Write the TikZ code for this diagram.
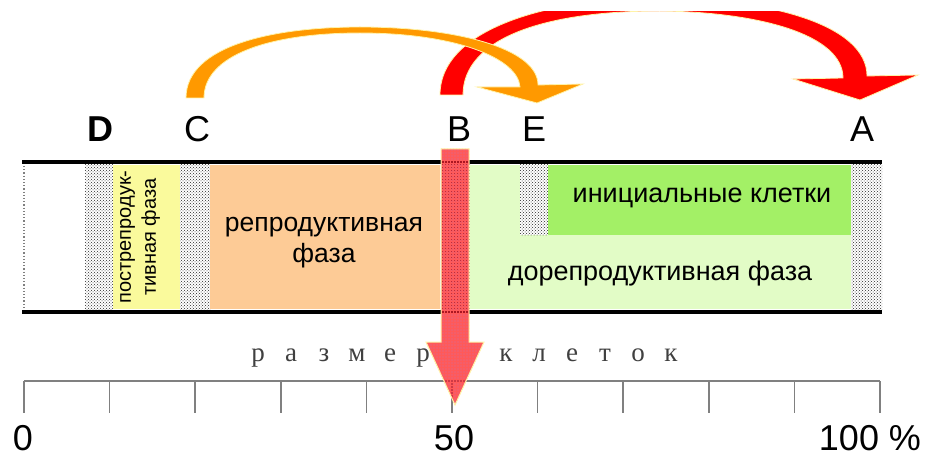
\documentclass[tikz,border=0pt]{standalone}
\usepackage{fontspec}
\setmainfont{Liberation Sans}
\newfontfamily\rulerfont{Liberation Serif}
\usetikzlibrary{patterns}
\definecolor{peach}{HTML}{FDCB96}
\definecolor{paleyellow}{HTML}{FAFA9C}
\definecolor{palegreen}{HTML}{E2FCC6}
\definecolor{brightgreen}{HTML}{A3F066}
\definecolor{arcorange}{HTML}{FF9900}
\definecolor{arcred}{HTML}{FF0000}
\definecolor{glow}{HTML}{FFF3A8}
\definecolor{rulerc}{HTML}{808080}
\definecolor{barred}{HTML}{EE2030}
\begin{document}
\begin{tikzpicture}[x=1pt,y=-1pt,
  stipple/.style={fill=white,postaction={pattern=crosshatch dots,pattern color=black!85}},
  letter/.style={font=\fontsize{36}{40}\selectfont,inner sep=0pt},
  bandtext/.style={font=\fontsize{27}{31}\selectfont,inner sep=0pt,align=center},
  rulertext/.style={font=\rulerfont\fontsize{27}{30}\selectfont,inner sep=0pt,text=black!75,anchor=base},
  digit/.style={font=\fontsize{36}{40}\selectfont,inner sep=0pt},
  bandline/.style={line width=4pt,black},
  tick/.style={rulerc,line width=1.5pt}]
\useasboundingbox (0,0) rectangle (925,457);

% ---- band regions ----
\fill[stipple] (85,165) rectangle (113,309);
\fill[paleyellow] (113,165) rectangle (180,309);
\fill[stipple] (180,165) rectangle (210,309);
\fill[peach] (210,165) rectangle (440,309);
\fill[stipple] (440,165) rectangle (470,309);
\fill[palegreen] (470,165) rectangle (851,309);
\fill[stipple] (520,165) rectangle (548,235);
\fill[brightgreen] (548,165) rectangle (851,235);
\fill[stipple] (851,165) rectangle (882,309);
\draw[rulerc,dotted,line width=1.2pt] (24,166) -- (24,308);
\draw[bandline] (22,162) -- (882,162);
\draw[bandline] (22,312) -- (882,312);

% ---- band texts ----
\node[rotate=90,font=\fontsize{20}{25}\selectfont,inner sep=0pt,align=center] (post) at (140,237) {пострепродук-\\тивная фаза};
\node[bandtext,font=\fontsize{26.5}{31}\selectfont] (repro) at (324,243) {репродуктивная\\фаза};
\node[bandtext] (init) at (702,198) {инициальные клетки};
\node[bandtext] (dorepro) at (660,274) {дорепродуктивная фаза};

% ---- letters ----
\node[letter,font=\bfseries\fontsize{36}{40}\selectfont] (D) at (100,129) {D};
\node[letter] (C) at (197,129) {C};
\node[letter] (B) at (459,129) {B};
\node[letter] (E) at (534,129) {E};
\node[letter] (A) at (862,129) {A};

% ---- ruler ----
\coordinate (r0) at (24,381);
\coordinate (r1) at (880,381);
\draw[rulerc,line width=2pt] (r0) -- (r1);
\foreach \i in {0,...,10} \draw[tick] ({24+85.6*\i},381) -- ({24+85.6*\i},413);
\foreach \ch/\x [count=\n] in {р/258,а/291,з/324,м/357,е/390,р/423,к/506,л/539,е/572,т/605,о/638,к/671}
  \node[rulertext] (s\n) at (\x,361) {\ch};
\node[digit] (n0) at (23,438) {0};
\node[digit] (n50) at (454,438) {50};
\node[digit] (n100) at (870,438) {100 \%};

% ---- down arrow at B ----
\fill[barred,fill opacity=0.72,postaction={pattern=grid,pattern color=white!35!red}]
  (441,149) -- (469,149) -- (469,342) -- (484,342) -- (455,405) -- (426,342) -- (441,342) -- cycle;
\draw[glow,line width=1pt]
  (441,149) -- (469,149) -- (469,342) -- (484,342) -- (455,405) -- (426,342) -- (441,342) -- cycle;

% ---- red arc B -> A ----
\begin{scope}
\clip (0,12) rectangle (925,200);
\filldraw[fill=arcred,draw=glow,line width=0.8pt]
  (440,95) .. controls (440,25) and (560,-2) .. (655,-2)
  .. controls (770,-2) and (867,25) .. (867,76)
  -- (918,75) -- (860,100) -- (793,79) -- (843,78)
  .. controls (843,35) and (760,12) .. (660,11)
  .. controls (540,11) and (463,40) .. (463,95) -- cycle;
\end{scope}

% ---- orange arc C -> E ----
\filldraw[fill=arcorange,draw=glow,line width=0.8pt]
  (186,98) .. controls (186,45) and (275,27) .. (360,27)
  .. controls (455,27) and (538,48) .. (538,85)
  -- (583,84) -- (537,103) -- (477,87) -- (520,87)
  .. controls (518,58) and (455,33) .. (360,33)
  .. controls (270,33) and (204,55) .. (204,98) -- cycle;
\end{tikzpicture}
\end{document}
